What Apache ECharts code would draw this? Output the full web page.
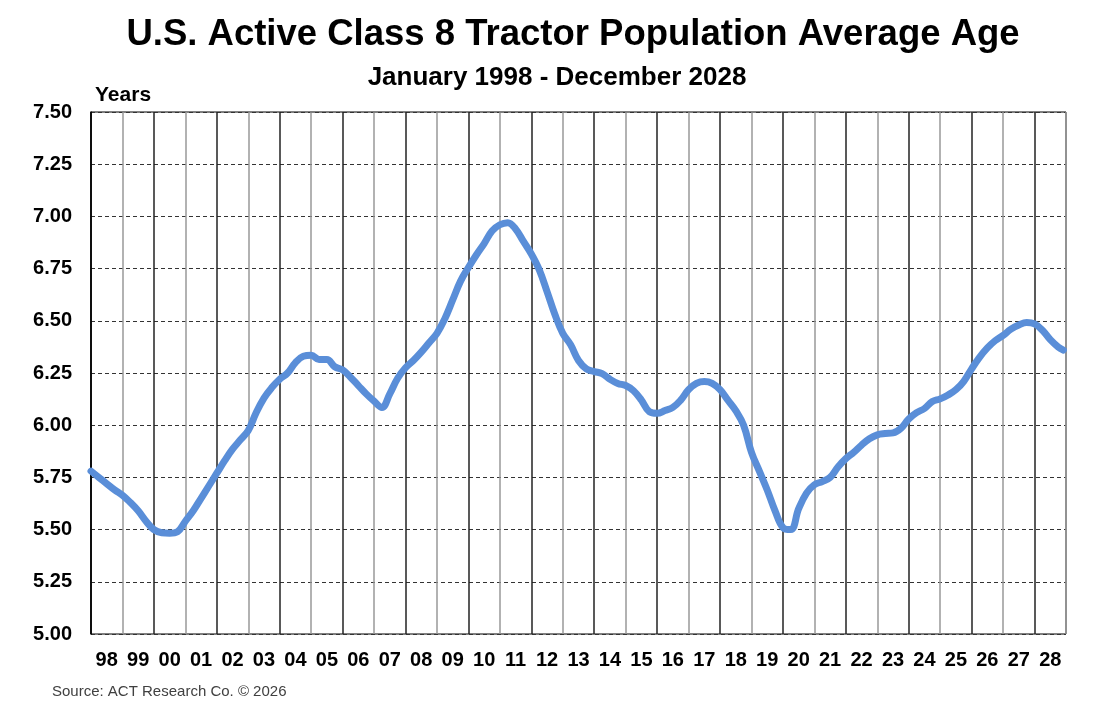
<!DOCTYPE html>
<html>
<head>
<meta charset="utf-8">
<script src="https://cdn.jsdelivr.net/npm/echarts@6/dist/echarts.min.js"></script>
<style>
html,body{margin:0;padding:0;background:#fff;}
#chart{width:1101px;height:712px;}
</style>
</head>
<body>
<div id="chart"></div>
<script>
// Year tick labels (one per year band)
const yearLabels = ['98','99','00','01','02','03','04','05','06','07','08','09','10','11','12','13','14','15','16','17','18','19','20','21','22','23','24','25','26','27','28'];
const yTicks = [5.00, 5.25, 5.50, 5.75, 6.00, 6.25, 6.50, 6.75, 7.00, 7.25, 7.50];

// Quarter-start dates (YYYY-MM) and average age in years
const dates = [];
for (let y = 1998; y <= 2028; y++) { ['01','04','07','10'].forEach(m => dates.push(y + '-' + m)); }
dates.push('2028-12');

const avgAge = [
  5.78, 5.75, 5.72, 5.69,     // 1998
  5.665, 5.63, 5.59, 5.54,    // 1999
  5.50, 5.485, 5.483, 5.49,   // 2000
  5.54, 5.59, 5.65, 5.71,     // 2001
  5.77, 5.83, 5.885, 5.93,    // 2002
  5.975, 6.06, 6.13, 6.18,    // 2003
  6.22, 6.25, 6.30, 6.33,     // 2004
  6.335, 6.315, 6.315, 6.28,  // 2005
  6.265, 6.23, 6.19, 6.15,    // 2006
  6.115, 6.085, 6.15, 6.225,  // 2007
  6.275, 6.31, 6.35, 6.395,   // 2008
  6.44, 6.51, 6.60, 6.69,     // 2009
  6.755, 6.815, 6.87, 6.93,   // 2010
  6.96, 6.97, 6.94, 6.88,     // 2011
  6.82, 6.745, 6.64, 6.53,    // 2012
  6.44, 6.385, 6.31, 6.27,    // 2013
  6.257, 6.247, 6.22, 6.20,   // 2014
  6.19, 6.165, 6.12, 6.065,   // 2015
  6.057, 6.07, 6.085, 6.12,   // 2016
  6.17, 6.20, 6.209, 6.20,    // 2017
  6.17, 6.12, 6.07, 6.00,     // 2018
  5.87, 5.78, 5.69, 5.59,     // 2019
  5.51, 5.50, 5.60, 5.675,    // 2020
  5.715, 5.73, 5.75, 5.80,    // 2021
  5.84, 5.87, 5.905, 5.935,   // 2022
  5.954, 5.96, 5.963, 5.985,  // 2023
  6.03, 6.06, 6.08, 6.113,    // 2024
  6.126, 6.145, 6.17, 6.21,   // 2025
  6.27, 6.325, 6.37, 6.405,   // 2026
  6.43, 6.46, 6.48, 6.492,    // 2027
  6.485, 6.455, 6.41, 6.375,  // 2028
  6.36                         // Dec 2028
];

function toYearFrac(d) {
  const [y, m] = d.split('-').map(Number);
  return y + (m - 1) / 12;
}
const seriesData = dates.map((d, i) => [toYearFrac(d), avgAge[i]]);

const FONT = '"Liberation Sans", Arial, sans-serif';
const chart = echarts.init(document.getElementById('chart'), null, { renderer: 'canvas' });
chart.setOption({
  animation: false,
  backgroundColor: '#ffffff',
  title: [
    { text: 'U.S. Active Class 8 Tractor Population Average Age', left: 568, top: 11, textAlign: 'center',
      textStyle: { fontFamily: FONT, fontSize: 36.5, fontWeight: 'bold', color: '#000' } },
    { text: 'January 1998 - December 2028', left: 552, top: 60, textAlign: 'center',
      textStyle: { fontFamily: FONT, fontSize: 26, fontWeight: 'bold', color: '#000' } }
  ],
  graphic: [
    { type: 'text', left: 95, top: 85, style: { text: 'Years', font: 'bold 21px ' + FONT, fill: '#000' } },
    { type: 'text', left: 52, top: 684, style: { text: 'Source: ACT Research Co. \u00A9 2026', font: '15px ' + FONT, fill: '#404040' } }
  ],
  grid: { left: 91, right: 35, top: 112, bottom: 78, show: true, borderColor: '#000', borderWidth: 1, backgroundColor: 'transparent' },
  xAxis: [
    { type: 'value', min: 1998, max: 2029, interval: 1,
      axisLine: { show: false }, axisTick: { show: false }, axisLabel: { show: false },
      splitLine: { show: true, lineStyle: { color: ['#222', '#999'], width: 1.5 } } },
    { type: 'category', data: yearLabels, position: 'bottom', boundaryGap: true,
      axisLine: { show: false }, axisTick: { show: false }, splitLine: { show: false },
      axisLabel: { margin: 16, fontFamily: FONT, fontSize: 20, fontWeight: 'bold', color: '#000' } }
  ],
  yAxis: {
    type: 'value', min: yTicks[0], max: yTicks[yTicks.length - 1], interval: 0.25,
    axisLine: { show: true, lineStyle: { color: '#000', width: 1.5 } }, axisTick: { show: false },
    axisLabel: { margin: 19, fontFamily: FONT, fontSize: 20, fontWeight: 'bold', color: '#000',
      formatter: v => v.toFixed(2) },
    splitLine: { show: true, lineStyle: { color: '#333', type: [4, 3], width: 1 } }
  },
  series: [{
    type: 'line', xAxisIndex: 0, data: seriesData, smooth: 0.4, symbol: 'none',
    lineStyle: { color: '#5A8ED8', width: 7, cap: 'round', join: 'round' }
  }]
});
</script>
</body>
</html>
